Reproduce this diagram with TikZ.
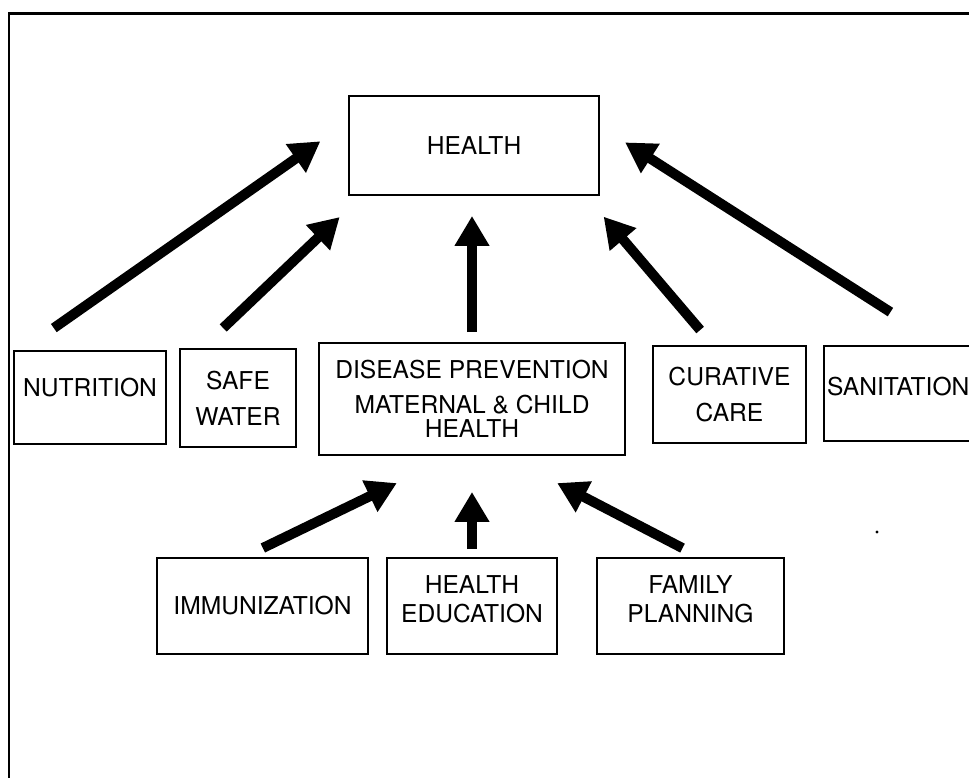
\documentclass[tikz,border=0pt]{standalone}
\usepackage{fontspec}
\setmainfont{TeX Gyre Heros}
\usetikzlibrary{arrows.meta}

\begin{document}
\begin{tikzpicture}[
    x=0.02cm, y=-0.02cm,
    hlthFrame/.style={line width=0.06cm},
    hlthBox/.style={draw, line width=0.045cm, align=center,
        inner sep=0.06cm, outer sep=0pt, minimum height=1.92cm,
        font=\fontsize{14}{16.5}\selectfont},
    hlthRaised/.style={text depth=0.4cm},
    hlthArrow/.style={line width=0.2cm,
        -{Triangle[length=0.6cm, width=0.66cm]}}
]
    \useasboundingbox (0,0) rectangle (969,778);

    % 外框
    \draw[hlthFrame] (969,13) -- (9,13) -- (9,778);

    % 顶层
    \node[hlthBox, minimum width=5cm, minimum height=1.98cm]
        (health) at (474,145.5) {HEALTH};

    % 中层
    \node[hlthBox, hlthRaised, minimum width=3.04cm, minimum height=1.86cm]
        (nutrition) at (90,397.5) {NUTRITION};
    \node[hlthBox, minimum width=2.32cm, minimum height=1.96cm]
        (safewater) at (238,398) {SAFE\\[4pt]WATER};
    \node[hlthBox, minimum width=6.12cm, minimum height=2.24cm]
        (disease) at (472,399)
        {DISEASE PREVENTION\\[3.4pt]MATERNAL \& CHILD\\[-3pt]HEALTH};
    \node[hlthBox, minimum width=3.06cm, minimum height=1.94cm]
        (curative) at (729.5,394.5) {CURATIVE\\[4.5pt]CARE};
    \node[hlthBox, text depth=0.3cm, anchor=west, minimum width=3.4cm,
        minimum height=1.9cm, text width=3.28cm, align=left]
        (sanitation) at (824,393.5) {SANITATION};

    % 底层
    \node[hlthBox, minimum width=4.22cm]
        (immunization) at (262.5,606) {IMMUNIZATION};
    \node[hlthBox, text depth=0.28cm, minimum width=3.4cm]
        (healthedu) at (472,606) {HEALTH\\[0.5pt]EDUCATION};
    \node[hlthBox, text depth=0.28cm, minimum width=3.74cm]
        (family) at (690.5,606) {FAMILY\\PLANNING};

    % 指向 HEALTH 的箭头
    \draw[hlthArrow, shorten <=0.8cm, shorten >=0.7cm]
        (nutrition.146) -- (health.169);
    \draw[hlthArrow, shorten <=0.61cm, shorten >=0.64cm]
        (safewater.127) -- (health.204);
    \draw[hlthArrow, shorten <=0.22cm, shorten >=0.42cm]
        (disease.north) -- (disease.north |- health.south);
    \draw[hlthArrow, shorten <=0.42cm, shorten >=0.57cm]
        (curative.108) -- (health.336);
    \draw[hlthArrow, shorten <=1.26cm, shorten >=0.62cm]
        (sanitation.54) -- (health.9);

    % 指向 DISEASE PREVENTION 的箭头
    \draw[hlthArrow, shorten <=0.46cm, shorten >=1.29cm]
        (immunization.113) -- (disease.253);
    \draw[hlthArrow, shorten <=0.18cm, shorten >=0.74cm]
        (healthedu.north) -- (healthedu.north |- disease.south);
    \draw[hlthArrow, shorten <=0.43cm, shorten >=1.22cm]
        (family.77) -- (disease.299);

    % 小点
    \fill (877,532) circle (0.9pt);
\end{tikzpicture}
\end{document}
